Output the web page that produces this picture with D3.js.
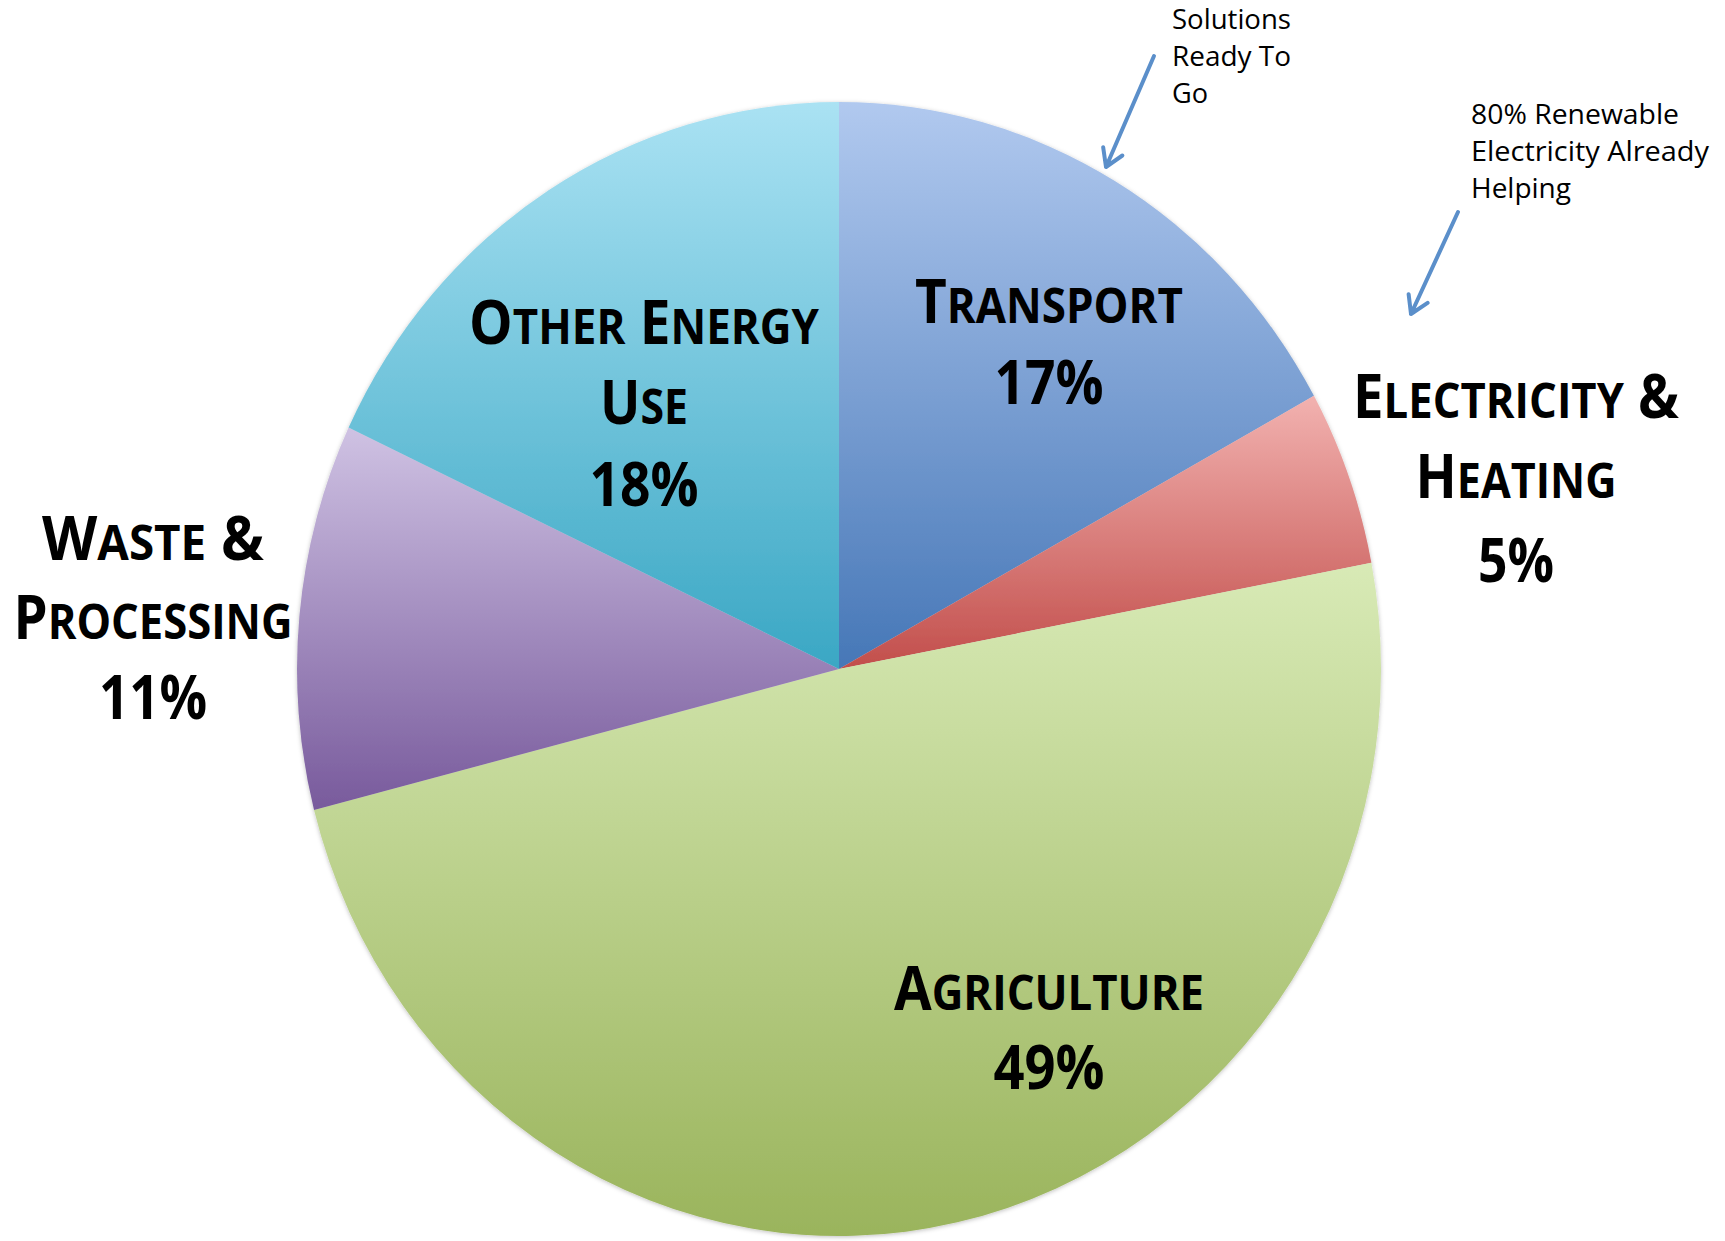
<!DOCTYPE html>
<html>
<head>
<meta charset="utf-8">
<script src="https://cdn.jsdelivr.net/npm/d3@7"></script>
<style>
  html, body { margin: 0; padding: 0; background: #ffffff; }
  svg { display: block; }
</style>
</head>
<body>
<svg id="chart" width="1725" height="1241"></svg>
<script>
// ---------------- data ----------------
const categories = ["Transport", "Electricity & Heating", "Agriculture", "Waste & Processing", "Other Energy Use"];
const values = [17, 5, 49, 11, 18];
const labelLines = [["Transport"], ["Electricity &", "Heating"], ["Agriculture"], ["Waste &", "Processing"], ["Other Energy", "Use"]];
const topColors = ["#b1c9ef", "#f2b2b0", "#d8eab6", "#cfc2e3", "#aae2f3"];
const bottomColors = ["#4677b7", "#c24e4b", "#9ab45c", "#785a9c", "#3aa7c4"];
const notes = [["Solutions", "Ready To", "Go"], ["80% Renewable", "Electricity Already", "Helping"]];

// ---------------- layout (not data) ----------------
const cx = 839, cy = 669, rx = 542, ry = 567;
const labelLayout = [
  { x: 1049, ys: [323, 404], w: [268, 109] },
  { x: 1516, ys: [418, 498, 582], w: [326, 201, 76] },
  { x: 1049, ys: [1010, 1089], w: [310, 111] },
  { x: 153, ys: [560, 639, 719], w: [222, 279, 108] },
  { x: 644, ys: [344, 424, 506], w: [350, 88, 109] }
];
const noteLayout = [
  { x: 1172, ys: [29, 66, 103], w: [119, 119, 36], arrow: [[1154, 56], [1106, 167]] },
  { x: 1471, ys: [124, 161, 198], w: [208, 238, 100], arrow: [[1458, 212], [1411, 314]] }
];

const svg = d3.select("#chart");
const defs = svg.append("defs");

categories.forEach((c, i) => {
  const g = defs.append("linearGradient").attr("id", "grad" + i)
    .attr("x1", 0).attr("y1", 0).attr("x2", 0).attr("y2", 1);
  g.append("stop").attr("offset", "0%").attr("stop-color", topColors[i]);
  g.append("stop").attr("offset", "100%").attr("stop-color", bottomColors[i]);
});

const shadow = defs.append("filter").attr("id", "shadow")
  .attr("x", "-5%").attr("y", "-5%").attr("width", "110%").attr("height", "110%");
shadow.append("feDropShadow").attr("dx", 0).attr("dy", 1).attr("stdDeviation", 2)
  .attr("flood-color", "#000").attr("flood-opacity", 0.25);

const pie = d3.pie().sort(null).value(d => d)
  .startAngle(0).endAngle(2 * Math.PI);
const arcs = pie(values);
const arc = d3.arc().innerRadius(0).outerRadius(rx);

const pieG = svg.append("g")
  .attr("transform", `translate(${cx},${cy}) scale(1,${ry / rx})`)
  .attr("filter", "url(#shadow)");

pieG.selectAll("path.slice").data(arcs).enter().append("path")
  .attr("class", "slice")
  .attr("d", arc)
  .attr("fill", (d, i) => `url(#grad${i})`);

// ---------------- labels (small caps) ----------------
const FS = 60;
function addSmallCaps(textSel, str) {
  const words = str.split(" ");
  words.forEach((w, wi) => {
    const prefix = wi > 0 ? " " : "";
    if (/^[A-Za-z]/.test(w)) {
      textSel.append("tspan").attr("font-size", FS).text(prefix + w[0].toUpperCase());
      if (w.length > 1) textSel.append("tspan").attr("font-size", FS * 0.8).text(w.slice(1).toUpperCase());
    } else {
      textSel.append("tspan").attr("font-size", FS).text(prefix + w);
    }
  });
}

const labelG = svg.append("g")
  .attr("font-family", "'Open Sans', 'Noto Sans', sans-serif")
  .attr("font-weight", 700)
  .attr("fill", "#000");

categories.forEach((c, i) => {
  const lay = labelLayout[i];
  const lines = labelLines[i].concat([values[i] + "%"]);
  lines.forEach((ln, li) => {
    const t = labelG.append("text")
      .attr("x", lay.x).attr("y", lay.ys[li])
      .attr("text-anchor", "middle")
      .attr("textLength", lay.w[li])
      .attr("lengthAdjust", "spacingAndGlyphs");
    if (li < lines.length - 1) addSmallCaps(t, ln);
    else t.append("tspan").attr("font-size", FS).text(ln);
  });
});

// ---------------- annotations ----------------
const noteG = svg.append("g")
  .attr("font-family", "'Open Sans', 'Noto Sans', sans-serif")
  .attr("font-size", 27)
  .attr("fill", "#000");

notes.forEach((lines, ni) => {
  const lay = noteLayout[ni];
  lines.forEach((ln, li) => {
    noteG.append("text")
      .attr("x", lay.x).attr("y", lay.ys[li])
      .attr("textLength", lay.w[li])
      .attr("lengthAdjust", "spacingAndGlyphs")
      .text(ln);
  });
  const [p0, p1] = lay.arrow;
  const ang = Math.atan2(p1[1] - p0[1], p1[0] - p0[0]);
  const L = 20, spread = 0.55;
  const a1 = [p1[0] - L * Math.cos(ang - spread), p1[1] - L * Math.sin(ang - spread)];
  const a2 = [p1[0] - L * Math.cos(ang + spread), p1[1] - L * Math.sin(ang + spread)];
  const path = d3.path();
  path.moveTo(p0[0], p0[1]); path.lineTo(p1[0], p1[1]);
  path.moveTo(a1[0], a1[1]); path.lineTo(p1[0], p1[1]); path.lineTo(a2[0], a2[1]);
  svg.append("path").attr("d", path.toString())
    .attr("fill", "none").attr("stroke", "#5b8fca")
    .attr("stroke-width", 4).attr("stroke-linecap", "round").attr("stroke-linejoin", "round");
});
</script>
</body>
</html>
